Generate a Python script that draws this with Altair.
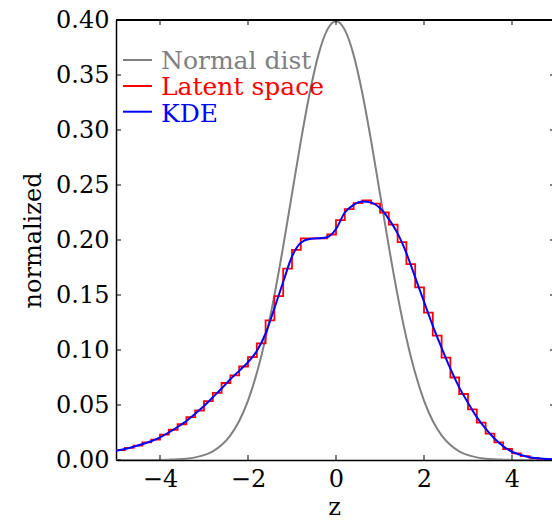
import altair as alt
import pandas as pd

# ---------------- data ----------------
z_grid = [round(-5 + 0.2 * i, 1) for i in range(51)]

normal_vals = [0.0000, 0.0000, 0.0000, 0.0000, 0.0001, 0.0001, 0.0003, 0.0006, 0.0012, 0.0024,
               0.0044, 0.0079, 0.0136, 0.0224, 0.0355, 0.0540, 0.0790, 0.1109, 0.1497, 0.1942,
               0.2420, 0.2897, 0.3332, 0.3683, 0.3910, 0.3989, 0.3910, 0.3683, 0.3332, 0.2897,
               0.2420, 0.1942, 0.1497, 0.1109, 0.0790, 0.0540, 0.0355, 0.0224, 0.0136, 0.0079,
               0.0044, 0.0024, 0.0012, 0.0006, 0.0003, 0.0001, 0.0001, 0.0000, 0.0000, 0.0000,
               0.0000]

kde_vals = [0.0085, 0.0100, 0.0120, 0.0145, 0.0170, 0.0205, 0.0250, 0.0300, 0.0355, 0.0420,
            0.0490, 0.0570, 0.0650, 0.0735, 0.0810, 0.0890, 0.0990, 0.1150, 0.1380, 0.1620,
            0.1850, 0.1975, 0.2010, 0.2015, 0.2025, 0.2100, 0.2250, 0.2320, 0.2350, 0.2340,
            0.2290, 0.2190, 0.2060, 0.1880, 0.1660, 0.1440, 0.1220, 0.1020, 0.0830, 0.0660,
            0.0520, 0.0390, 0.0285, 0.0195, 0.0125, 0.0075, 0.0045, 0.0025, 0.0015, 0.0008,
            0.0005]

bin_edges = z_grid  # 50 bins of width 0.2
hist_vals = [0.0090, 0.0110, 0.0130, 0.0160, 0.0185, 0.0230, 0.0275, 0.0325, 0.0390, 0.0450,
             0.0535, 0.0610, 0.0700, 0.0770, 0.0850, 0.0935, 0.1060, 0.1270, 0.1490, 0.1740,
             0.1910, 0.2015, 0.2015, 0.2015, 0.2050, 0.2180, 0.2280, 0.2335, 0.2360, 0.2330,
             0.2250, 0.2140, 0.1980, 0.1780, 0.1570, 0.1340, 0.1130, 0.0930, 0.0750, 0.0600,
             0.0460, 0.0340, 0.0240, 0.0160, 0.0100, 0.0060, 0.0035, 0.0020, 0.0010, 0.0006]

y_ticks = [0.00, 0.05, 0.10, 0.15, 0.20, 0.25, 0.30, 0.35, 0.40]
x_ticks = [-4, -2, 0, 2, 4]

legend_labels = ["Normal dist", "Latent space", "KDE"]
legend_colors = ["gray", "red", "blue"]

# ---------------- tables ----------------
df_norm = pd.DataFrame({"z": z_grid, "normalized": normal_vals})
df_kde = pd.DataFrame({"z": z_grid, "normalized": kde_vals})
df_hist = pd.DataFrame({"z": bin_edges, "normalized": hist_vals + [hist_vals[-1]]})
df_yt = pd.DataFrame({"normalized": y_ticks})
df_xt = pd.DataFrame({"z": x_ticks})

# ---------------- layout ----------------
W, H = 436, 440
FONT = "DejaVu Serif"
FS = 24
LFS = 25

xscale = alt.Scale(domain=[-5, -5 + W / 44.0], nice=False, zero=False)
yscale = alt.Scale(domain=[0, 0.40], nice=False, zero=False)

xaxis = alt.Axis(values=x_ticks, tickSize=0, labelPadding=7, grid=False,
                 labelExpr="datum.value < 0 ? '\u2212' + format(-datum.value, 'd') : format(datum.value, 'd')",
                 domain=True, domainColor="black", domainWidth=1.5,
                 labelFont=FONT, labelFontSize=FS, labelColor="black", labelFlush=False,
                 titleFont=FONT, titleFontSize=FS, titleFontWeight="normal", titleColor="black",
                 titlePadding=4)
yaxis = alt.Axis(values=y_ticks, format=".2f", tickSize=0, labelPadding=7, grid=False,
                 domain=True, domainColor="black", domainWidth=1.5,
                 labelFont=FONT, labelFontSize=FS, labelColor="black",
                 titleFont=FONT, titleFontSize=FS, titleFontWeight="normal", titleColor="black",
                 titlePadding=10)

xenc = alt.X("z:Q", scale=xscale, axis=xaxis, title="z")
yenc = alt.Y("normalized:Q", scale=yscale, axis=yaxis, title="normalized")

normal = alt.Chart(df_norm).mark_line(color="gray", strokeWidth=2, interpolate="monotone", clip=True).encode(x=xenc, y=yenc)
hist = alt.Chart(df_hist).mark_line(color="red", strokeWidth=1.8, interpolate="step-after", clip=True).encode(x=xenc, y=yenc)
kde = alt.Chart(df_kde).mark_line(color="blue", strokeWidth=2, interpolate="monotone", clip=True).encode(x=xenc, y=yenc)

TL = 5
left_ticks = alt.Chart(df_yt).mark_rule(color="black", strokeWidth=1).encode(y=yenc, x=alt.value(0), x2=alt.value(TL))
right_ticks = alt.Chart(df_yt).mark_rule(color="black", strokeWidth=1).encode(y=yenc, x=alt.value(W - 2), x2=alt.value(W))
bottom_ticks = alt.Chart(df_xt).mark_rule(color="black", strokeWidth=1).encode(x=xenc, y=alt.value(H), y2=alt.value(H - TL))
top_ticks = alt.Chart(df_xt).mark_rule(color="black", strokeWidth=1).encode(x=xenc, y=alt.value(0), y2=alt.value(TL))
top_spine = alt.Chart(df_xt).mark_rule(color="black", strokeWidth=1.5).encode(x=alt.value(0), x2=alt.value(W), y=alt.value(0))

legend_layers = []
line_ys = [40, 66, 91.7]
base_ys = [48.5, 75, 101.5]
for lab, col, ly, by in zip(legend_labels, legend_colors, line_ys, base_ys):
    d = pd.DataFrame({"label": [lab]})
    legend_layers.append(
        alt.Chart(d).mark_rule(color=col, strokeWidth=2).encode(x=alt.value(7), x2=alt.value(36), y=alt.value(ly))
    )
    legend_layers.append(
        alt.Chart(d).mark_text(color=col, font=FONT, fontSize=LFS, align="left", baseline="alphabetic")
        .encode(text="label:N", x=alt.value(45), y=alt.value(by))
    )

chart = alt.layer(
    normal, hist, kde, left_ticks, right_ticks, bottom_ticks, top_ticks, top_spine, *legend_layers
).properties(
    width=W, height=H,
    autosize=alt.AutoSizeParams(type="none"),
    padding={"left": 116, "top": 20, "right": 0, "bottom": 61},
    background="white",
).configure_view(stroke=None)

chart.save("out.html", embed_options={"renderer": "svg", "actions": False})
